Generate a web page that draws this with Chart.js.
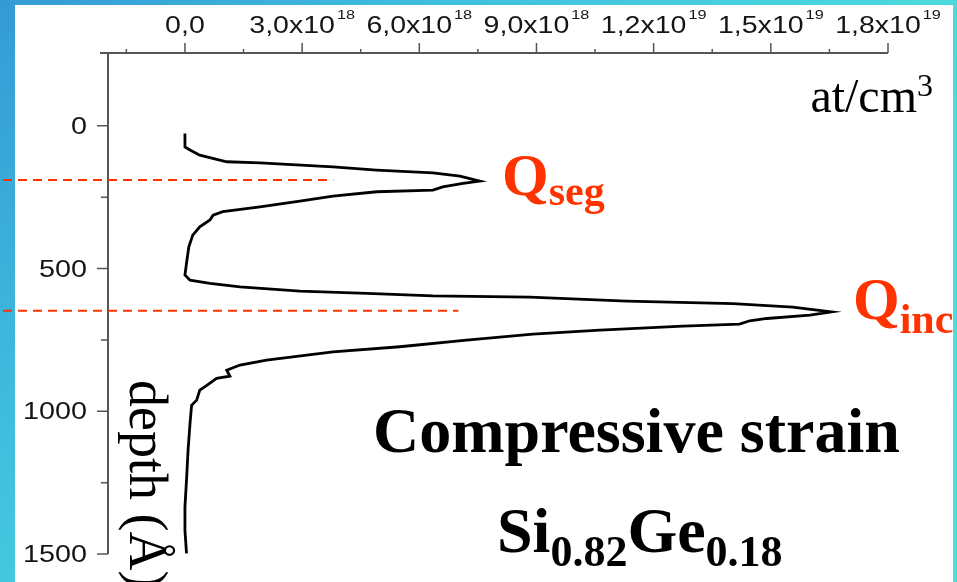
<!DOCTYPE html>
<html>
<head>
<meta charset="utf-8">
<title>SIMS depth profile</title>
<script src="https://cdn.jsdelivr.net/npm/chart.js@4.4.1/dist/chart.umd.min.js"></script>
<style>
  html, body { margin: 0; padding: 0; width: 957px; height: 582px; overflow: hidden; }
  body { background: linear-gradient(135deg, #349ad5 0%, #41c0df 30%, #4bd8de 60%, #4fdedc 100%); }
  #panel { position: absolute; left: 15px; top: 5px; width: 938px; height: 577px; background: #fff; }
  #wrap { position: absolute; left: 0; top: 0; width: 957px; height: 582px; }
</style>
</head>
<body>
<div id="panel"></div>
<div id="wrap"><canvas id="profile"></canvas></div>
<script>
// ---- profile data: depth (Å) against concentration (at/cm3) ----
const depth = [27, 74, 85, 103, 126, 130, 144, 155, 165, 176, 194, 202, 214, 225, 231, 246, 264, 284,
  301, 313, 330, 354, 383, 424, 471, 523, 541, 552, 564, 579, 587, 596, 600, 614, 623, 635, 652,
  663, 675, 683, 695, 702, 716, 730, 751, 774, 792, 821, 838, 856, 877, 885, 909, 926, 961, 979,
  1042, 1136, 1241, 1335, 1417, 1498];
const conc = [0.0, 0.0, 0.13e18, 0.38e18, 1.07e18, 1.92e18, 3.79e18, 4.91e18, 6.35e18, 7.04e18,
  7.55e18, 7.12e18, 6.60e18, 6.35e18, 4.91e18, 3.79e18, 2.94e18, 1.92e18,
  0.97e18, 0.72e18, 0.64e18, 0.38e18, 0.20e18, 0.10e18, 0.05e18, 0.0, 0.13e18, 0.64e18, 1.41e18,
  2.94e18, 4.66e18, 6.35e18, 8.83e18, 11.31e18, 14.03e18, 15.56e18, 16.55e18,
  16.0e18, 14.9e18, 14.46e18, 14.2e18, 12.75e18, 10.62e18, 8.91e18, 7.21e18, 5.50e18, 3.79e18,
  2.09e18, 1.41e18, 1.07e18, 1.15e18, 0.81e18, 0.56e18, 0.38e18, 0.30e18, 0.17e18,
  0.13e18, 0.08e18, 0.04e18, 0.0, 0.0, 0.04e18];

// top axis ticks
const xTicks = [0, 3e18, 6e18, 9e18, 1.2e19, 1.5e19, 1.8e19];
const xTickMantissa = ['0,0', '3,0x10', '6,0x10', '9,0x10', '1,2x10', '1,5x10', '1,8x10'];
const xTickExp = ['', '18', '18', '18', '19', '19', '19'];
const xMinorTicks = [-1.5e18, 1.5e18, 4.5e18, 7.5e18, 1.05e19, 1.35e19, 1.65e19];

// depth axis ticks
const yTicks = [0, 500, 1000, 1500];
const yTickLabels = ['0', '500', '1000', '1500'];
const yMinorTicks = [250, 750, 1250];

// dashed guides through the two peaks: depth and where each one stops
const markerDepths = [190, 648];
const markerEnds = [3.8e18, 7.0e18];

const RED = '#ff3300';
const AXIS = '#555555';
const SANS = '"Liberation Sans", Arial, sans-serif';
const SERIF = '"Liberation Serif", "Times New Roman", serif';

// draws a list of text runs side by side (for sub/superscripts), each run may be stretched in x
function drawRuns(ctx, runs, x, y, align) {
    let total = 0;
    runs.forEach(r => { ctx.font = r.font; total += ctx.measureText(r.text).width * (r.sx || 1) + (r.gap || 0); });
    let cx = align === 'center' ? x - total / 2 : align === 'right' ? x - total : x;
    runs.forEach(r => {
        ctx.font = r.font;
        const w = ctx.measureText(r.text).width * (r.sx || 1);
        cx += (r.gap || 0);
        ctx.save();
        ctx.translate(cx, y + (r.dy || 0));
        ctx.scale(r.sx || 1, 1);
        ctx.textAlign = 'left';
        ctx.textBaseline = 'alphabetic';
        ctx.fillText(r.text, 0, 0);
        ctx.restore();
        cx += w;
    });
}

const axesPlugin = {
    id: 'profileAxes',
    afterDraw(chart) {
        const ctx = chart.ctx;
        const xs = chart.scales.x, ys = chart.scales.y;
        const area = chart.chartArea;

        ctx.save();
        // axis lines
        ctx.strokeStyle = AXIS;
        ctx.lineWidth = 2;
        ctx.beginPath();
        ctx.moveTo(area.left - 8, area.top);
        ctx.lineTo(area.right, area.top);
        ctx.moveTo(area.left, area.top);
        ctx.lineTo(area.left, area.bottom);
        ctx.stroke();

        // tick marks
        ctx.lineWidth = 1.5;
        ctx.beginPath();
        xTicks.forEach(v => { const p = xs.getPixelForValue(v); ctx.moveTo(p, area.top); ctx.lineTo(p, area.top - 10); });
        xMinorTicks.forEach(v => { const p = xs.getPixelForValue(v); ctx.moveTo(p, area.top); ctx.lineTo(p, area.top - 4); });
        yTicks.forEach(v => { const p = ys.getPixelForValue(v); ctx.moveTo(area.left, p); ctx.lineTo(area.left - 11, p); });
        yMinorTicks.forEach(v => { const p = ys.getPixelForValue(v); ctx.moveTo(area.left, p); ctx.lineTo(area.left - 7, p); });
        ctx.stroke();

        // tick labels
        ctx.fillStyle = '#151515';
        xTicks.forEach((v, i) => {
            const runs = [{ text: xTickMantissa[i], font: '23px ' + SANS, sx: 1.24 }];
            if (xTickExp[i]) runs.push({ text: xTickExp[i], font: '13px ' + SANS, sx: 1.25, dy: -14, gap: 2 });
            drawRuns(ctx, runs, xs.getPixelForValue(v), area.top - 20, 'center');
        });
        yTicks.forEach((v, i) => {
            drawRuns(ctx, [{ text: yTickLabels[i], font: '23px ' + SANS, sx: 1.25 }], area.left - 21, ys.getPixelForValue(v) + 8, 'right');
        });

        // dashed guides at the two peak depths
        ctx.strokeStyle = RED;
        ctx.lineWidth = 2;
        ctx.setLineDash([9, 6]);
        markerDepths.forEach((d, i) => {
            const p = ys.getPixelForValue(d);
            ctx.beginPath();
            ctx.moveTo(3, p);
            ctx.lineTo(xs.getPixelForValue(markerEnds[i]), p);
            ctx.stroke();
        });
        ctx.setLineDash([]);

        // labels inside the white panel
        ctx.beginPath();
        ctx.rect(15, 5, 938, 577);
        ctx.clip();

        ctx.fillStyle = '#000';
        drawRuns(ctx, [
            { text: 'at/cm', font: '48px ' + SERIF },
            { text: '3', font: '32px ' + SERIF, dy: -16 }
        ], 933, 112, 'right');

        ctx.fillStyle = RED;
        drawRuns(ctx, [
            { text: 'Q', font: 'bold 60px ' + SERIF },
            { text: 'seg', font: 'bold 42px ' + SERIF, dy: 10 }
        ], 502, 195, 'left');
        drawRuns(ctx, [
            { text: 'Q', font: 'bold 60px ' + SERIF },
            { text: 'inc', font: 'bold 42px ' + SERIF, dy: 14 }
        ], 853, 319, 'left');

        ctx.fillStyle = '#000';
        drawRuns(ctx, [{ text: 'Compressive strain', font: 'bold 64px ' + SERIF }], 373, 452, 'left');
        drawRuns(ctx, [
            { text: 'Si', font: 'bold 64px ' + SERIF },
            { text: '0.82', font: 'bold 44px ' + SERIF, dy: 14 },
            { text: 'Ge', font: 'bold 64px ' + SERIF },
            { text: '0.18', font: 'bold 44px ' + SERIF, dy: 14 }
        ], 497, 552, 'left');

        // depth axis title, reading downwards
        ctx.save();
        ctx.translate(130, 380);
        ctx.rotate(Math.PI / 2);
        ctx.font = '54px ' + SERIF;
        ctx.textBaseline = 'alphabetic';
        ctx.fillText('depth (Å)', 0, 0);
        ctx.restore();

        ctx.restore();
    }
};

document.addEventListener('DOMContentLoaded', function () {
    const points = depth.map((d, i) => ({ x: conc[i], y: d }));
    new Chart(document.getElementById('profile'), {
        type: 'scatter',
        data: {
            datasets: [{
                label: 'profile',
                data: points,
                showLine: true,
                borderColor: '#000',
                borderWidth: 2.8,
                pointRadius: 0,
                tension: 0
            }]
        },
        options: {
            responsive: true,
            maintainAspectRatio: false,
            animation: false,
            events: [],
            layout: { padding: { left: 108, top: 53, right: 69, bottom: 28 } },
            plugins: { legend: { display: false }, tooltip: { enabled: false } },
            scales: {
                x: { type: 'linear', display: false, min: -1.97e18, max: 1.8e19 },
                y: { type: 'linear', display: false, reverse: true, min: -255, max: 1500 }
            }
        },
        plugins: [axesPlugin]
    });
});
</script>
</body>
</html>
